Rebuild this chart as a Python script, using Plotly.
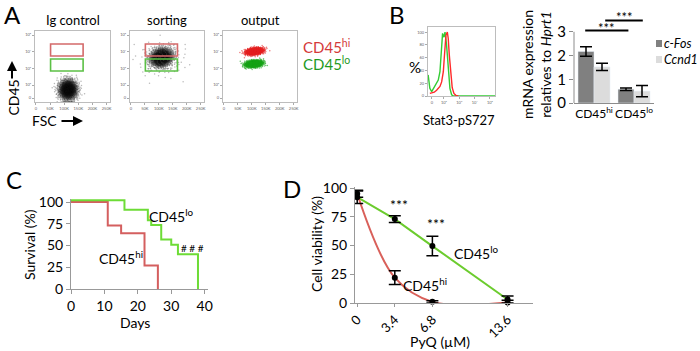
import math
import plotly.graph_objects as go

W, H = 700, 351
FONT = "Lato"

# ---------------- data ----------------
# Panel A: flow cytometry clouds (FSC in K units, CD45 in log10 decades)
cloud_panel = [1, 2, 2, 3, 3]
cloud_cx = [114, 110, 108, 110, 108]
cloud_cy = [1.72, 3.65, 3.6, 4.02, 3.27]
cloud_sx = [16, 19, 45, 15, 15]
cloud_sy = [0.3, 0.26, 0.55, 0.1, 0.1]
cloud_tilt = [0.0, 0.002, 0.0, 0.002, 0.0015]
cloud_n = [2000, 2200, 120, 1200, 1200]
cloud_color = ["#111111", "#111111", "#555555", "#e41f1f", "#17a317"]
cloud_alpha = [0.3, 0.33, 0.4, 0.6, 0.6]

flow_titles = ["Ig control", "sorting", "output"]
gate_x = [52, 167]
gate_hi_y = [3.74, 4.46]
gate_lo_y = [2.84, 3.56]
flow_ytickvals = [1.22, 2, 3, 4, 5]
flow_yticktext = ["0", "10²", "10³", "10⁴", "10⁵"]
flow_xtickvals = [0, 50, 100, 150, 200, 250]
flow_xticktext = ["0", "50K", "100K", "150K", "200K", "250K"]

# Panel B left: Stat3-pS727 histogram (x in decades, y in %)
hist_x_green = [0.97, 1.08, 1.2, 1.41, 1.63, 1.74, 1.78, 1.85, 1.91, 2.0, 2.07, 2.17, 2.28, 2.39, 2.5, 2.61, 5.33]
hist_y_green = [33, 12, 7, 15, 25, 38, 54, 75, 98, 92, 100, 80, 44, 12, 2, 0, 0]
hist_x_red = [1.08, 1.37, 1.52, 1.74, 1.85, 1.96, 2.02, 2.07, 2.13, 2.22, 2.28, 2.35, 2.44, 2.54, 2.65, 2.78, 2.94]
hist_y_red = [4, 6, 9, 15, 22, 38, 59, 80, 95, 100, 90, 64, 33, 13, 4, 1, 0]

# Panel B right: mRNA expression
bar_cats = ["CD45<sup>hi</sup>", "CD45<sup>lo</sup>"]
cfos = [2.17, 0.58]
cfos_err = [0.2, 0.05]
ccnd1 = [1.52, 0.5]
ccnd1_err = [0.15, 0.24]
sig_x0 = [-0.22, 0.28]
sig_x1 = [0.86, 1.22]
sig_y = [3.05, 3.48]

# Panel C: survival
surv_hi_days = [0, 11, 15, 22, 26]
surv_hi = [100, 73, 64, 27, 0]
surv_lo_days = [0, 16, 23, 24, 27, 30, 32, 38]
surv_lo = [102, 91, 79, 73.5, 57, 51, 40, 0]

# Panel D: cell viability
pyq = [0, 3.4, 6.8, 13.6]
pyq_labels = ["0", "3.4", "6.8", "13.6"]
via_hi = [95, 22, 1, 0.5]
via_hi_err = [3, 6, 1, 2]
via_lo = [92, 73, 49.5, 3]
via_lo_err = [5.5, 3, 8.5, 3]

# ---------------- helpers (window pixel -> paper fraction) ----------------
def px(x):
    return x / W

def py(y):
    return 1 - y / H

def dx(l, r):
    return [px(l), px(r)]

def dy(top, bottom):
    return [py(bottom), py(top)]

def halton(i, b):
    f, r = 1.0, 0.0
    while i > 0:
        f /= b
        r += f * (i % b)
        i //= b
    return r

fig = go.Figure()

# ---- Panel A clouds ----
bases = [(2, 3), (5, 7), (11, 13), (2, 3), (5, 7)]
for k in range(len(cloud_cx)):
    xs, ys = [], []
    b1, b2 = bases[k]
    for i in range(1, cloud_n[k] + 1):
        u1 = max(halton(i, b1), 1e-6)
        u2 = halton(i, b2)
        r = math.sqrt(-2 * math.log(u1))
        gx = r * math.cos(2 * math.pi * u2)
        gy = r * math.sin(2 * math.pi * u2)
        x = cloud_cx[k] + cloud_sx[k] * gx
        y = cloud_cy[k] + cloud_sy[k] * gy + cloud_tilt[k] * (x - cloud_cx[k])
        y = max(y, 1.0)
        xs.append(x)
        ys.append(y)
    p = cloud_panel[k]
    fig.add_trace(go.Scatter(
        x=xs, y=ys, mode="markers",
        marker=dict(size=1.5, color=cloud_color[k], opacity=cloud_alpha[k]),
        xaxis="x" if p == 1 else f"x{p}", yaxis="y" if p == 1 else f"y{p}",
        showlegend=False, hoverinfo="skip"))

shapes = []
for p in (1, 2):
    xr = "x" if p == 1 else f"x{p}"
    yr = "y" if p == 1 else f"y{p}"
    shapes.append(dict(type="rect", xref=xr, yref=yr, x0=gate_x[0], x1=gate_x[1],
                       y0=gate_hi_y[0], y1=gate_hi_y[1], line=dict(color="#d46a6a", width=1.6)))
    shapes.append(dict(type="rect", xref=xr, yref=yr, x0=gate_x[0], x1=gate_x[1],
                       y0=gate_lo_y[0], y1=gate_lo_y[1], line=dict(color="#5cc046", width=1.6)))

# ---- Panel B histogram ----
fig.add_trace(go.Scatter(x=hist_x_green, y=hist_y_green, mode="lines",
                         line=dict(color="#33cc33", width=1.4), xaxis="x4", yaxis="y4",
                         showlegend=False, hoverinfo="skip"))
fig.add_trace(go.Scatter(x=hist_x_red, y=hist_y_red, mode="lines",
                         line=dict(color="#ff2a2a", width=1.4), xaxis="x4", yaxis="y4",
                         showlegend=False, hoverinfo="skip"))

# ---- Panel B bars ----
err_style = dict(type="data", color="black", thickness=1.5, width=6)
fig.add_trace(go.Bar(x=bar_cats, y=cfos, error_y=dict(array=cfos_err, **err_style),
                     marker=dict(color="#808080"), xaxis="x5", yaxis="y5", showlegend=False))
fig.add_trace(go.Bar(x=bar_cats, y=ccnd1, error_y=dict(array=ccnd1_err, **err_style),
                     marker=dict(color="#dcdcdc"), xaxis="x5", yaxis="y5", showlegend=False))
for i in range(len(sig_y)):
    shapes.append(dict(type="line", xref="x5", yref="y5", x0=sig_x0[i], x1=sig_x1[i],
                       y0=sig_y[i], y1=sig_y[i], line=dict(color="black", width=2)))
# y axis line of bar chart only up to 3
shapes.append(dict(type="line", xref="x5 domain", yref="y5", x0=0, x1=0, y0=0, y1=3,
                   line=dict(color="#8c8c8c", width=1)))

# ---- Panel C survival ----
fig.add_trace(go.Scatter(x=surv_hi_days, y=surv_hi, mode="lines", line_shape="hv",
                         line=dict(color="#d45f5f", width=2), xaxis="x6", yaxis="y6",
                         showlegend=False, cliponaxis=False))
fig.add_trace(go.Scatter(x=surv_lo_days, y=surv_lo, mode="lines", line_shape="hv",
                         line=dict(color="#6ddc36", width=2), xaxis="x6", yaxis="y6",
                         showlegend=False, cliponaxis=False))

# ---- Panel D viability ----
fig.add_trace(go.Scatter(x=pyq, y=via_lo, mode="lines", line=dict(color="#6ccc2e", width=2),
                         xaxis="x7", yaxis="y7", showlegend=False, cliponaxis=False))
fig.add_trace(go.Scatter(x=pyq, y=via_hi, mode="lines", line_shape="spline",
                         line=dict(color="#d9605a", width=2, smoothing=1.0),
                         xaxis="x7", yaxis="y7", showlegend=False))
for vals, errs in ((via_lo, via_lo_err), (via_hi, via_hi_err)):
    fig.add_trace(go.Scatter(x=pyq, y=vals, mode="markers",
                             marker=dict(color="black", size=6),
                             error_y=dict(array=errs, **err_style),
                             xaxis="x7", yaxis="y7", showlegend=False, cliponaxis=False))

# ---------------- layout ----------------
tiny = dict(size=4, color="#666666", family=FONT)
lay = dict(width=W, height=H, margin=dict(l=0, r=0, t=0, b=0, pad=0, autoexpand=False),
           paper_bgcolor="white", plot_bgcolor="white",
           font=dict(family=FONT, color="black"), barmode="group", bargap=0.2,
           bargroupgap=0.0, showlegend=False)

common = dict(automargin=False, showgrid=False, zeroline=False)

flow_dom = [(35, 110), (130, 204), (223, 297)]
for i, (l, r) in enumerate(flow_dom, start=1):
    xk = "xaxis" if i == 1 else f"xaxis{i}"
    yk = "yaxis" if i == 1 else f"yaxis{i}"
    lay[xk] = dict(domain=dx(l, r), range=[-3, 262], anchor="y" if i == 1 else f"y{i}",
                   showline=True, mirror=True, linecolor="#bdbdbd", linewidth=1,
                   ticks="outside", ticklen=2, tickcolor="#aaaaaa",
                   tickvals=flow_xtickvals, ticktext=flow_xticktext, tickfont=tiny,
                   tickangle=0, **common)
    lay[yk] = dict(domain=dy(31, 102), range=[0.98, 5.24], anchor="x" if i == 1 else f"x{i}",
                   showline=True, mirror=True, linecolor="#bdbdbd", linewidth=1,
                   ticks="outside", ticklen=2, tickcolor="#aaaaaa",
                   tickvals=flow_ytickvals, ticktext=flow_yticktext, tickfont=tiny, **common)

lay["xaxis4"] = dict(domain=dx(428, 495), range=[0.96, 5.33], anchor="y4",
                     showline=True, mirror=True, linecolor="#bdbdbd", linewidth=1,
                     ticks="outside", ticklen=2, tickcolor="#aaaaaa",
                     tickvals=flow_ytickvals, ticktext=flow_yticktext, tickfont=tiny,
                     tickangle=0, **common)
lay["yaxis4"] = dict(domain=dy(27, 96), range=[0, 108], anchor="x4",
                     showline=True, mirror=True, linecolor="#bdbdbd", linewidth=1,
                     ticks="outside", ticklen=2, tickcolor="#aaaaaa",
                     tickvals=[0, 20, 40, 60, 80, 100], tickfont=tiny, **common)

lay["xaxis5"] = dict(domain=dx(574, 654), anchor="y5", showline=True, linecolor="#8c8c8c",
                     linewidth=1, ticks="", tickfont=dict(size=12, family=FONT), tickangle=0,
                     range=[-0.5, 1.5], **common)
lay["yaxis5"] = dict(domain=dy(14, 103), range=[0, 3.75], anchor="x5", showline=False,
                     ticks="outside", ticklen=4, tickcolor="#8c8c8c",
                     tickvals=[0, 1, 2, 3], tickfont=dict(size=15, family=FONT), **common)

lay["xaxis6"] = dict(domain=dx(71, 208), range=[0, 41], anchor="y6", showline=True,
                     linecolor="#999999", ticks="outside", ticklen=4, tickcolor="#999999",
                     tickvals=[0, 10, 20, 30, 40], tickfont=dict(size=14, family=FONT),
                     tickangle=0, **common)
lay["yaxis6"] = dict(domain=dy(199, 289), range=[0, 103.5], anchor="x6", showline=True,
                     linecolor="#999999", ticks="outside", ticklen=4, tickcolor="#999999",
                     tickvals=[0, 25, 50, 75, 100], tickfont=dict(size=14, family=FONT), **common)

lay["xaxis7"] = dict(domain=dx(355, 533), range=[-0.2, 15.9], anchor="y7", showline=True,
                     linecolor="#999999", ticks="outside", ticklen=3, tickcolor="#999999",
                     tickvals=pyq, ticktext=pyq_labels, tickangle=-45,
                     tickfont=dict(size=13, family=FONT), **common)
lay["yaxis7"] = dict(domain=dy(187, 303), range=[0, 100.9], anchor="x7", showline=True,
                     linecolor="#999999", ticks="outside", ticklen=4, tickcolor="#999999",
                     tickvals=[0, 25, 50, 75, 100], tickfont=dict(size=14, family=FONT), **common)

anns = []
def ann(text, x, y, size, xanchor="center", **kw):
    d = dict(text=text, x=px(x), y=py(y), xref="paper", yref="paper", showarrow=False,
             xanchor=xanchor, yanchor="middle", borderpad=0,
             font=dict(size=size, family=FONT, color=kw.pop("color", "black")))
    d.update(kw)
    anns.append(d)

# panel letters
ann("A", 12, 14, 24)
ann("B", 397, 15, 24)
ann("C", 14, 179, 24)
ann("D", 292, 188, 24)

# panel A text
for t, (l, r) in zip(flow_titles, flow_dom):
    ann(t, (l + r) / 2, 20, 13)
ann("CD45", 12.5, 98, 14, textangle=-90)
ann("FSC", 45, 121, 14)
ann("CD45<sup>hi</sup>", 302, 46, 15, xanchor="left", color="#d43a3a")
ann("CD45<sup>lo</sup>", 302, 63, 15, xanchor="left", color="#1f9a1f")
anns.append(dict(x=px(12), y=py(61), ax=0, ay=19, xref="paper", yref="paper", text="",
                 showarrow=True, arrowhead=2, arrowsize=1, arrowwidth=2, arrowcolor="black"))
anns.append(dict(x=px(83), y=py(121), ax=-23, ay=0, xref="paper", yref="paper", text="",
                 showarrow=True, arrowhead=2, arrowsize=1, arrowwidth=2, arrowcolor="black"))

# panel B text
ann("%", 415, 67, 15)
ann("Stat3-pS727", 459, 120, 13)
ann("mRNA expression<br>relatives to <i>Hprt1</i>", 537, 65, 14, textangle=-90)
for i in range(len(sig_y)):
    anns.append(dict(text="***", x=(sig_x0[i] + sig_x1[i]) / 2, y=sig_y[i], xref="x5", yref="y5",
                     xanchor="center", yanchor="bottom", showarrow=False, yshift=-7,
                     font=dict(size=13, family=FONT, color="black")))
shapes.append(dict(type="rect", xref="paper", yref="paper", x0=px(656), x1=px(662),
                   y0=py(47), y1=py(40), fillcolor="#808080", line=dict(width=0)))
shapes.append(dict(type="rect", xref="paper", yref="paper", x0=px(656), x1=px(662),
                   y0=py(63), y1=py(56), fillcolor="#dcdcdc", line=dict(width=0)))
ann("<i>c-Fos</i>", 663, 43.5, 12.5, xanchor="left")
ann("<i>Ccnd1</i>", 663, 59.5, 12.5, xanchor="left")

# panel C text
ann("Survival (%)", 29, 244, 14, textangle=-90)
ann("Days", 135, 322, 14)
ann("CD45<sup>lo</sup>", 171, 215, 14)
ann("CD45<sup>hi</sup>", 121, 257, 14)
ann("# # #", 192, 248, 10)

# panel D text
ann("Cell viability (%)", 316, 244, 14, textangle=-90)
ann("PyQ (µM)", 440, 341, 14)
ann("***", 399, 204, 14)
ann("***", 436, 223, 14)
ann("CD45<sup>lo</sup>", 477, 253, 14)
ann("CD45<sup>hi</sup>", 425, 284, 14)

lay["annotations"] = anns
lay["shapes"] = shapes
fig.update_layout(**lay)
fig.write_html("out.html",
               config={"displayModeBar": False},
               post_script="document.body.style.margin='0px';document.body.style.overflow='hidden';")
